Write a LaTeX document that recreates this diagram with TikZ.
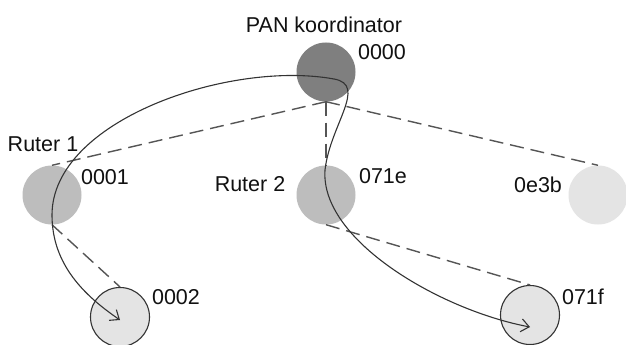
\documentclass[tikz,border=0pt]{standalone}
\usepackage{fontspec}
\setmainfont{Liberation Sans}
\usetikzlibrary{arrows.meta}
\definecolor{pancol}{HTML}{7F7F7F}
\definecolor{rutcol}{HTML}{BDBDBD}
\definecolor{endcol}{HTML}{E4E4E4}
\definecolor{linecol}{HTML}{333333}
\definecolor{dashcol}{HTML}{555555}
\definecolor{txtcol}{HTML}{111111}
\tikzset{
  dev/.style={circle, minimum size=59pt, inner sep=0pt, draw=none},
  leaf/.style={dev, fill=endcol, draw=linecol, line width=1.1pt},
  lbl/.style={inner sep=0pt, text=txtcol, font=\fontsize{21.5}{24}\selectfont},
  link/.style={draw=dashcol, line width=1.4pt, dash pattern=on 14pt off 7pt},
  route/.style={draw=linecol, line width=1.1pt, -{Straight Barb[length=8pt,width=13pt,line width=1.1pt]}}
}
\begin{document}
\begin{tikzpicture}[x=1pt,y=-1pt]
\useasboundingbox[fill=white] (0,0) rectangle (626,345);
% devices
\node[dev, fill=pancol] (pan) at (326,72) {};
\node[dev, fill=rutcol] (r1) at (52,195) {};
\node[dev, fill=rutcol] (r2) at (326,195) {};
\node[dev, fill=endcol] (e3b) at (598,195) {};
\node[leaf] (n0002) at (120,317) {};
\node[leaf] (n071f) at (530,315) {};
% labels
\node[lbl] (tpan) at (324,25) {PAN koordinator};
\node[lbl] (t0000) at (382,52) {0000};
\node[lbl] (tr1) at (43,144) {Ruter 1};
\node[lbl] (t0001) at (105,177) {0001};
\node[lbl] (tr2) at (250,184) {Ruter 2};
\node[lbl] (t071e) at (383,176) {071e};
\node[lbl] (t0e3b) at (538,185) {0e3b};
\node[lbl] (t0002) at (176,297) {0002};
\node[lbl] (t071f) at (583,297) {071f};
% links
\draw[link] (pan.south) -- (r1.north);
\draw[link] (pan.south) -- (r2.north);
\draw[link] (pan.south) -- (e3b.north);
\draw[link] (r1.south) -- (n0002.north);
\draw[link] (r2.south) -- (n071f.north);
% routes
\coordinate (p) at (334,79);
\coordinate (tipA) at (120,320);
\coordinate (tipB) at (530,327);
\draw[route] (p) .. controls (230,60) and (52,120) .. (52,215)
  .. controls (52,265) and (85,296) .. (tipA);
\draw[route] (p) .. controls (368,85) and (330,125) .. (325,170)
  .. controls (320,240) and (440,310) .. (tipB);
\end{tikzpicture}
\end{document}
